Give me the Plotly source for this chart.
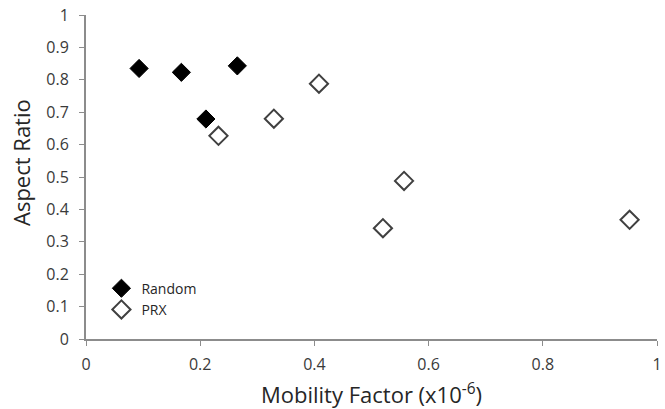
import plotly.graph_objects as go

# Measured samples
random_x = [0.093, 0.167, 0.265, 0.210]
random_y = [0.835, 0.823, 0.843, 0.679]

prx_x = [0.232, 0.329, 0.408, 0.557, 0.520, 0.952]
prx_y = [0.627, 0.680, 0.788, 0.488, 0.342, 0.368]

tick_vals = [0, 0.1, 0.2, 0.3, 0.4, 0.5, 0.6, 0.7, 0.8, 0.9, 1]
tick_text = ["0", "0.1", "0.2", "0.3", "0.4", "0.5", "0.6", "0.7", "0.8", "0.9", "1"]
x_tick_vals = [0, 0.2, 0.4, 0.6, 0.8, 1]
x_tick_text = ["0", "0.2", "0.4", "0.6", "0.8", "1"]

FONT = "'Open Sans', sans-serif"
AXIS_COLOR = "#8c8c8c"
TEXT_COLOR = "#3a3a3a"
TITLE_COLOR = "#262626"

fig = go.Figure()
fig.add_trace(go.Scatter(
    x=random_x, y=random_y, mode="markers", name="Random",
    marker=dict(symbol="diamond", size=14, color="black",
                line=dict(color="black", width=1)),
))
fig.add_trace(go.Scatter(
    x=prx_x, y=prx_y, mode="markers", name="PRX",
    marker=dict(symbol="diamond-open", size=14, color="#404040",
                line=dict(color="#404040", width=2)),
))

axis_common = dict(
    showgrid=False, zeroline=False, showline=True, linecolor=AXIS_COLOR,
    linewidth=2, ticks="outside", ticklen=5, tickcolor=AXIS_COLOR, tickwidth=1,
    tickfont=dict(family=FONT, size=16, color=TEXT_COLOR), automargin=False,
)

fig.update_xaxes(
    range=[0, 1], tickvals=x_tick_vals, ticktext=x_tick_text,
    ticklabelstandoff=5,
    title=dict(text="Mobility Factor (x10<sup>-6</sup>)",
               font=dict(family=FONT, size=22, color=TITLE_COLOR), standoff=16),
    **axis_common,
)
fig.update_yaxes(
    range=[0, 1], tickvals=tick_vals, ticktext=tick_text,
    ticklabelstandoff=7,
    **axis_common,
)

# Vertical axis title, placed close to the tick labels
fig.add_annotation(
    text="Aspect Ratio", xref="paper", yref="paper",
    x=-0.114, y=0.546, xanchor="center", yanchor="middle",
    textangle=-90, showarrow=False,
    font=dict(family=FONT, size=22, color=TITLE_COLOR),
)

fig.update_layout(
    width=665, height=409,
    margin=dict(l=86, r=8, t=15, b=70),
    paper_bgcolor="white", plot_bgcolor="white",
    showlegend=True,
    legend=dict(x=0.027, y=0.123, xanchor="left", yanchor="middle",
                font=dict(family=FONT, size=14, color=TITLE_COLOR),
                bgcolor="rgba(0,0,0,0)", tracegroupgap=0, itemwidth=30),
)

fig.write_html("out.html")
